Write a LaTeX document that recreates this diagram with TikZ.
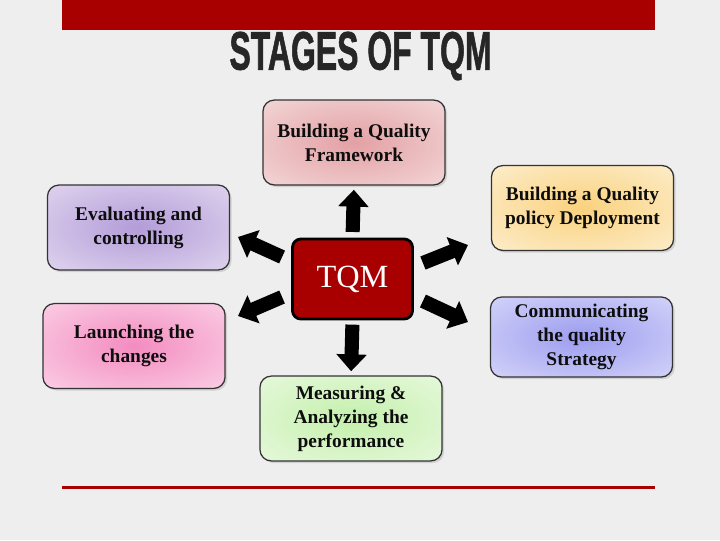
\documentclass[tikz,border=0pt]{standalone}
\usepackage{fontspec}
\setmainfont{Liberation Serif}
\newfontfamily\titlefont[UprightFeatures={FakeBold=1.6}, BoldFeatures={FakeBold=1.6}]{Liberation Sans}
\usepackage{tikz}
\usepackage{xcolor}
\usetikzlibrary{arrows.meta,shadows,calc}

\definecolor{barred}{HTML}{A80000}
\definecolor{pagebg}{HTML}{EEEEEE}
\definecolor{titlegray}{HTML}{262626}
\definecolor{frameIn}{HTML}{E3A0A4}
\definecolor{frameOut}{HTML}{F6E2E2}
\definecolor{deployIn}{HTML}{FAD27E}
\definecolor{deployOut}{HTML}{FDF3DC}
\definecolor{evalIn}{HTML}{B39CD8}
\definecolor{evalOut}{HTML}{E8E0F3}
\definecolor{launchIn}{HTML}{F38CC0}
\definecolor{launchOut}{HTML}{FCDCEC}
\definecolor{commIn}{HTML}{9C9CF0}
\definecolor{commOut}{HTML}{E0E0FB}
\definecolor{measureIn}{HTML}{C4F0AC}
\definecolor{measureOut}{HTML}{EEFAE6}

\makeatletter
\pgfdeclareradialshading[tikz@radial@inner,tikz@radial@outer]{softradial}{\pgfpoint{0bp}{0bp}}{%
  color(0bp)=(tikz@radial@inner); color(44bp)=(tikz@radial@outer); color(72bp)=(tikz@radial@outer)}
\makeatother

\begin{document}
\begin{tikzpicture}[
      x=0.025cm, y=-0.025cm,
      stage/.style={draw=black!80, line width=0.9pt, rounded corners=8pt, minimum width=4.55cm, minimum height=2.12cm,
        align=center, font=\fontsize{13.8}{17}\selectfont\bfseries, text=black!95,
        drop shadow={shadow xshift=1.5pt, shadow yshift=-1.5pt, opacity=0.25}},
      tint/.style={inner color=#1In, outer color=#1Out, shading=softradial},
      core/.style={draw=black, line width=2pt, rounded corners=6pt, minimum width=3.0cm, minimum height=2.0cm,
        fill=barred, text=white, font=\fontsize{23}{26}\selectfont},
      blk/.style={-{Triangle[width=21pt, length=12pt]}, line width=10pt, black}
  ]
    % page and frame
    \fill[pagebg] (0,0) rectangle (720,540);
    \fill[barred] (62,0) rectangle (655,30);
    \draw[barred, line width=2.2pt] (62,487.5) -- (655,487.5);
    \node[font=\titlefont\fontsize{38.5}{40}\selectfont\bfseries, text=titlegray] (title) at (360.5,56)
      {\scalebox{0.59}[1]{STAGES OF TQM}};

    % centre and stages
    \node[core] (tqm) at (352.5,279) {TQM};
    \node[stage, tint=frame] (frame) at (354,142.5) {Building a Quality\\Framework};
    \node[stage, tint=deploy] (deploy) at (582.5,208) {Building a Quality\\policy Deployment};
    \node[stage, tint=eval] (eval) at (138.5,227.5) {Evaluating and\\controlling};
    \node[stage, tint=launch] (launch) at (134,346) {Launching the\\changes};
    \node[stage, minimum height=2.0cm, tint=comm] (comm) at (581.5,337) {Communicating\\the quality\\Strategy};
    \node[stage, tint=measure] (measure) at (351,418.5) {Measuring \&\\Analyzing the\\performance};

    % block arrows
    \coordinate (tipUL) at (238,237);
    \coordinate (tipLL) at (238,316);
    \coordinate (tipUR) at (468,245);
    \coordinate (tipLR) at (468,322);
    \draw[blk, shorten <=4pt, shorten >=3pt] (tqm.north) -- (frame.south);
    \draw[blk, shorten <=3pt, shorten >=3pt] (tqm.south) -- (measure.north);
    \draw[blk] ($(tqm.west)+(-9,-22)$) -- (tipUL);
    \draw[blk] ($(tqm.west)+(-9,18)$) -- (tipLL);
    \draw[blk] ($(tqm.east)+(9,-16)$) -- (tipUR);
    \draw[blk] ($(tqm.east)+(9,22)$) -- (tipLR);
  \end{tikzpicture}
\end{document}
